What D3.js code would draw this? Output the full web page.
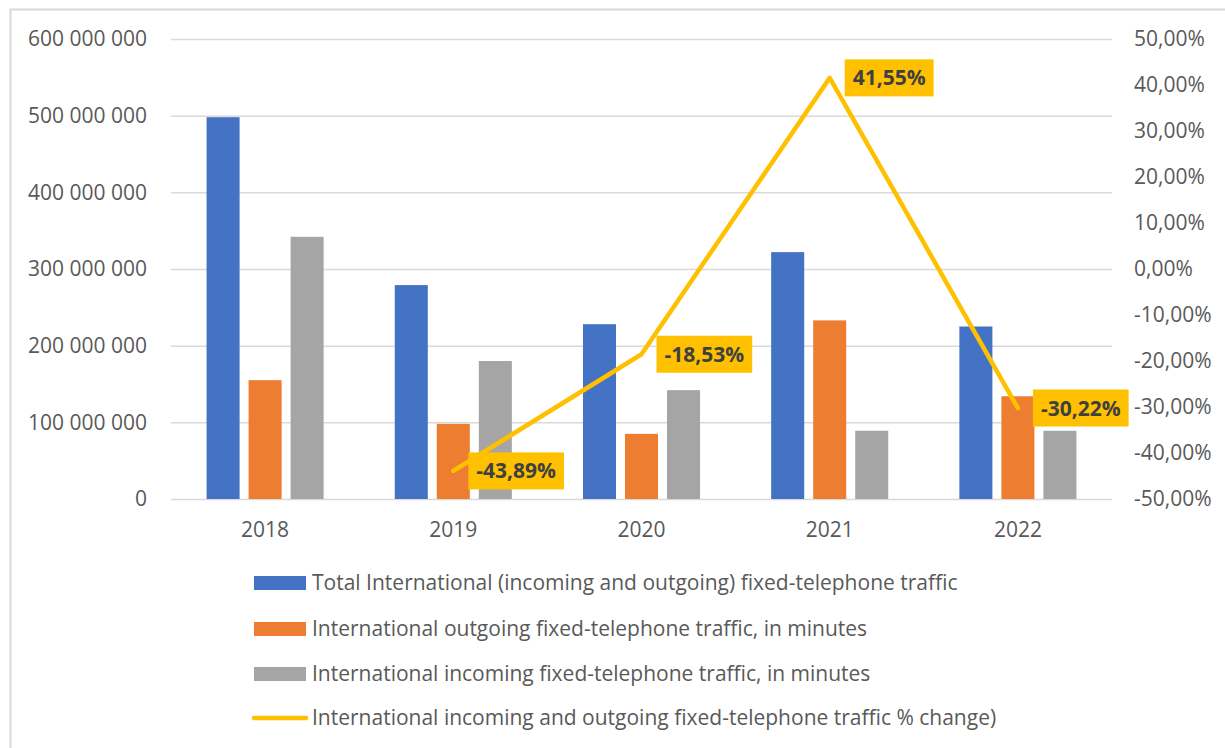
<!DOCTYPE html>
<html>
<head>
<meta charset="utf-8">
<script src="https://cdn.jsdelivr.net/npm/d3@7"></script>
<style>
  html, body { margin: 0; padding: 0; background: #fff; }
  svg { display: block; }
  text { font-family: "Open Sans", "Noto Sans", sans-serif; }
</style>
</head>
<body>
<svg id="chart" width="1225" height="748"></svg>
<script>
// Yearly international fixed-telephone traffic, in minutes
const years = ["2018", "2019", "2020", "2021", "2022"];
const totalTraffic = [498000000, 279000000, 228000000, 322000000, 225000000];
const outgoingTraffic = [155000000, 98000000, 85000000, 233000000, 134000000];
const incomingTraffic = [342000000, 180000000, 142000000, 89000000, 89000000];
// Year-on-year % change of total traffic (no value for the first year)
const pctChange = [null, -0.4389, -0.1853, 0.4155, -0.3022];

const leftTicks = [0, 100000000, 200000000, 300000000, 400000000, 500000000, 600000000];
const rightTicks = [-0.5, -0.4, -0.3, -0.2, -0.1, 0, 0.1, 0.2, 0.3, 0.4, 0.5];

const seriesNames = [
  "Total International (incoming and outgoing) fixed-telephone traffic",
  "International outgoing fixed-telephone traffic, in minutes",
  "International incoming fixed-telephone traffic, in minutes",
  "International incoming and outgoing fixed-telephone traffic % change)"
];
const barColors = ["#4472C4", "#ED7D31", "#A5A5A5"];
const lineColor = "#FFC000";

const locale = d3.formatLocale({
  decimal: ",", thousands: " ", grouping: [3], currency: ["", ""], minus: "-"
});
const fmtInt = locale.format(",d");
const fmtPct = locale.format(".2%");

const svg = d3.select("#chart");

// outer chart frame
svg.append("rect")
  .attr("x", 10.5).attr("y", 9.5)
  .attr("width", 1240).attr("height", 760)
  .attr("fill", "none").attr("stroke", "#D9D9D9").attr("stroke-width", 2);

const plot = { left: 171, right: 1112, top: 39, bottom: 499 };

const yL = d3.scaleLinear().domain([0, 600000000]).range([plot.bottom, plot.top]);
const yR = d3.scaleLinear().domain([-0.5, 0.5]).range([plot.bottom, plot.top]);

const groupPad = 0.378;
const x0 = d3.scaleBand().domain(years)
  .range([plot.left, plot.right])
  .paddingInner(groupPad).paddingOuter(groupPad / 2);
const x1 = d3.scaleBand().domain([0, 1, 2])
  .range([0, x0.bandwidth()])
  .paddingInner(0.214).paddingOuter(0);

// horizontal gridlines
const grid = svg.append("g")
  .attr("transform", `translate(${plot.left},0)`)
  .call(d3.axisLeft(yL).tickValues(leftTicks).tickSize(-(plot.right - plot.left)).tickFormat(""));
grid.select(".domain").remove();
grid.selectAll("line").attr("stroke", "#D9D9D9").attr("stroke-width", 1.5);

// left axis labels
const axL = svg.append("g")
  .attr("transform", `translate(147,0)`)
  .call(d3.axisLeft(yL).tickValues(leftTicks).tickSize(0).tickPadding(0).tickFormat(fmtInt));
axL.select(".domain").remove();
axL.selectAll("text").attr("fill", "#595959").attr("font-size", 21);

// right axis labels
const axR = svg.append("g")
  .attr("transform", `translate(1134,0)`)
  .call(d3.axisRight(yR).tickValues(rightTicks).tickSize(0).tickPadding(0).tickFormat(fmtPct));
axR.select(".domain").remove();
axR.selectAll("text").attr("fill", "#595959").attr("font-size", 21);

// category axis labels
const axX = svg.append("g")
  .attr("transform", `translate(0,${plot.bottom})`)
  .call(d3.axisBottom(x0).tickSize(0).tickPadding(23));
axX.select(".domain").remove();
axX.selectAll("text").attr("fill", "#595959").attr("font-size", 21);

// clustered bars
const seriesData = [totalTraffic, outgoingTraffic, incomingTraffic];
const groups = svg.append("g").selectAll("g")
  .data(years).join("g")
  .attr("transform", d => `translate(${x0(d)},0)`);
groups.selectAll("rect")
  .data((d, i) => seriesData.map((s, k) => ({ k, v: s[i] })))
  .join("rect")
  .attr("x", d => x1(d.k))
  .attr("width", x1.bandwidth())
  .attr("y", d => yL(d.v))
  .attr("height", d => yL(0) - yL(d.v))
  .attr("fill", d => barColors[d.k]);

// % change line
const linePts = years.map((y, i) => ({ y, v: pctChange[i] })).filter(d => d.v !== null);
const cx = d => x0(d.y) + x0.bandwidth() / 2;
svg.append("path")
  .datum(linePts)
  .attr("fill", "none")
  .attr("stroke", lineColor)
  .attr("stroke-width", 4.5)
  .attr("stroke-linejoin", "round")
  .attr("stroke-linecap", "round")
  .attr("d", d3.line().x(cx).y(d => yR(d.v)));

// data labels
const lbl = svg.append("g").selectAll("g")
  .data(linePts).join("g")
  .attr("transform", d => `translate(${cx(d) + 15},${yR(d.v)})`);
lbl.each(function (d) {
  const g = d3.select(this);
  const t = g.append("text")
    .attr("x", 8).attr("y", 0).attr("dy", "0.36em")
    .attr("font-size", 21).attr("font-weight", "bold")
    .attr("fill", "#404040")
    .text(fmtPct(d.v));
  const w = t.node().getComputedTextLength();
  g.insert("rect", "text")
    .attr("x", 0).attr("y", -18.5)
    .attr("width", w + 16).attr("height", 37)
    .attr("fill", lineColor);
});

// legend
const legend = svg.append("g");
const rowY = [583, 629, 674, 718];
seriesNames.forEach((name, i) => {
  const g = legend.append("g").attr("transform", `translate(0,${rowY[i]})`);
  if (i < 3) {
    g.append("rect").attr("x", 254).attr("y", -7).attr("width", 52).attr("height", 14)
      .attr("fill", barColors[i]);
  } else {
    g.append("line").attr("x1", 254).attr("x2", 306).attr("y1", 0).attr("y2", 0)
      .attr("stroke", lineColor).attr("stroke-width", 4.5).attr("stroke-linecap", "round");
  }
  g.append("text").attr("x", 312).attr("y", 0).attr("dy", "0.35em")
    .attr("font-size", 21).attr("fill", "#595959").text(name);
});
</script>
</body>
</html>
